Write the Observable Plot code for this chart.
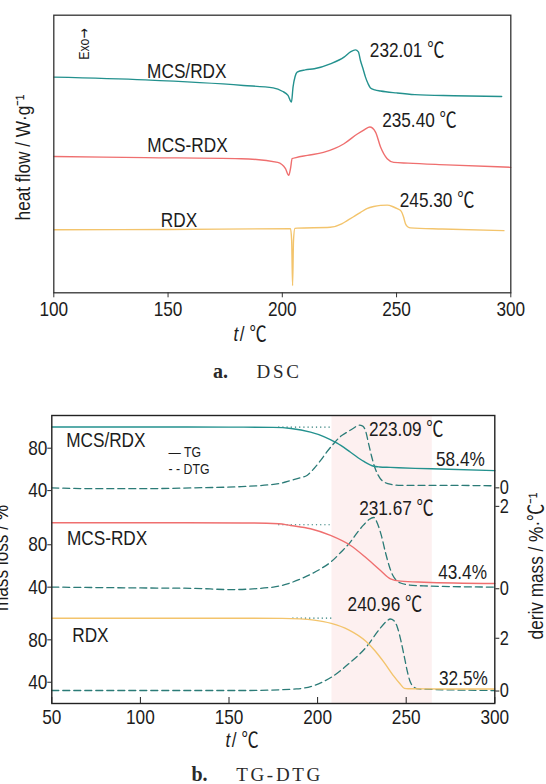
<!DOCTYPE html>
<html><head><meta charset="utf-8">
<script src="https://cdn.jsdelivr.net/npm/d3@7"></script>
<script src="https://cdn.jsdelivr.net/npm/@observablehq/plot@0.6"></script>
<style>
body{margin:0;background:#fff;}
#wrap{position:relative;width:546px;height:784px;overflow:hidden;background:#fff;}
#wrap svg{position:absolute;left:0;}
.cap{position:absolute;font-family:"Liberation Serif","DejaVu Serif",serif;font-size:19px;line-height:19px;color:#2a2a2a;white-space:pre;}
.cap b{font-weight:bold;font-size:20px;}
.cap span{letter-spacing:2.7px;}
</style></head><body><div id="wrap"></div>
<script>
// ================= Panel a: DSC (heat flow, arbitrary stacked units) =================
const dscTempMcsSlash = [100,140,183,196,200,202.5,204,204.7,205.6,206.5,210,214,221,227,230,232,233.3,234.2,235.3,236.4,237.5,238.6,240.5,243,250,258,275,296];
const dscHeatMcsSlash = [77.7,76.7,74.7,73.8,72.6,71.1,68.7,74.1,77.9,79.5,80.3,80.7,82.5,84.9,86.9,87.5,86.8,83.7,80.8,77.7,75.4,73.8,73.1,72.7,72.0,71.4,71.0,70.7];
const dscTempMcsDash = [100,140,182,198,201.4,202.8,203.6,204.3,206,211,218,223,227,233,236,238.3,240.8,243,245.9,248.8,255,272,300];
const dscHeatMcsDash = [49.1,48.7,48.3,47.0,44.7,42.3,44.8,48.3,48.7,49.5,50.6,52.0,53.7,57.3,58.8,59.7,57.9,52.5,48.3,47.0,46.7,46.1,45.2];
const dscTempRdx = [100,150,203.6,204.1,204.5,204.9,205.5,206.5,221,226,228.4,231,234.3,237,240,243,245.9,248.5,250.3,252,253,253.9,255,256.1,270,297];
const dscHeatRdx = [22.7,22.8,23.1,18.8,2.6,18.8,23.2,23.3,23.6,24.8,26.0,27.3,29.0,30.3,31.1,31.5,31.6,31.0,30.3,29.4,27.5,24.9,23.7,23.4,23.0,22.4];
const dscXTicks = [100,150,200,250,300];
const dscNames = ["MCS/RDX","MCS-RDX","RDX"];
const dscNameT = [158.2,158.5,154.8];
const dscNameV = [79.8,53.1,26.3];
const dscPeakLabels = ["232.01 ℃","235.40 ℃","245.30 ℃"];
const dscPeakT = [238.3,243.7,251.4];
const dscPeakV = [87.3,62.1,33.2];

// ================= Panel b: TG-DTG =================
const tgTempMcsSlash = [50,100,150,175,185,196,203.5,211,218.6,226.1,231.7,235,241,255,269,300];
const tgMassMcsSlash = [100,100,99.9,99.6,98.6,95.1,91.0,84.7,76.2,67.5,63.0,62.3,61.9,61.0,60.4,58.8];
const tgTempMcsDash = [50,100,158,178,184.7,196,207.3,218.6,228,235.5,241.1,246.8,260,300];
const tgMassMcsDash = [100.8,100.8,100.6,99.8,98.2,95.1,88.8,79.3,66.8,55.8,47.9,45.7,44.7,43.5];
const tgTempRdx = [50,100,150,180,190,198,207.7,217.5,227.4,232,237.2,243.1,246.5,249,251,270,300];
const tgMassRdx = [100.4,100.4,100.4,100.3,99.8,98.6,95.5,89.5,78.5,70.5,59.5,45.5,38.5,34.2,33.8,33.7,33.6];

const dtgTempMcsSlash = [50,75,100,130,157,179,185,190,194,198,201.6,205,209,213,216.6,220,223.5,225.5,227,229,230.5,232.5,235,237.5,242,247,270,300];
const dtgRateMcsSlash = [0,-0.02,-0.02,0,0.03,0.11,0.18,0.24,0.30,0.47,0.66,0.86,1.07,1.25,1.35,1.44,1.52,1.50,1.39,1.03,0.76,0.47,0.25,0.14,0.08,0.06,0.06,0.05];
const dtgTempMcsDash = [50,100,130,151,175,183,190,196,202,207.5,213,218.6,222.5,226,229,231.7,234,236,238.3,240.5,242.5,246.8,252,260,300];
const dtgRateMcsDash = [0.04,0.02,0.01,-0.02,0.04,0.12,0.23,0.35,0.49,0.65,0.88,1.14,1.37,1.55,1.68,1.73,1.56,1.29,0.88,0.54,0.32,0.14,0.09,0.07,0.04];
const dtgTempRdx = [50,100,158,188,198,207.7,217.5,227.4,235.1,239,241,243,245,247,249,250.5,252,254,257,300];
const dtgRateRdx = [0.02,0.02,0.02,0.08,0.21,0.52,1.03,1.66,2.36,2.65,2.73,2.67,2.42,1.91,1.28,0.78,0.40,0.17,0.08,0.02];

const tgXTicks = [50,100,150,200,250,300];
const tgLeftTicks = [80,40];
const dtgRightTicks = [[0],[0,2],[0,2]];
const baselineLevel = [99.8,98.9,100.4];
const baselineT1 = [178,178,186];
const baselineT2 = [208.8,207.5,208.8];
const shadeT1 = 208.1, shadeT2 = 264.7;
const tgNameT = [80.5,81.2,71.8];
const tgNameV = [87.3,85.7,84.1];
const tgPeakLabels = ["223.09 ℃","231.67 ℃","240.96 ℃"];
const tgPeakT = [250,244.5,238];
const tgPeakV = [98.3,114,114];
const tgResidueLabels = ["58.4%","43.4%","32.5%"];
const tgResidueT = [280.6,281.8,282.3];
const tgResidueV = [69.1,53.6,44.2];
const legendLabels = ["— TG","- - DTG"];
const legendT = [115.9,115.9];
const legendV = [76.2,60.6];

// stacking of the three TG-DTG sub-panels (shift in % units) and DTG axis mapping
const panelShift = [0,-91.1,-180.8];
const dtgZero = [42.6,38.5,31.7];
const dtgUnit = [38.87,38.87,24.9];
const panelBDomain = [-160.85,110.85];

const FONT = "'Liberation Sans',Arial,'Noto Sans CJK SC',sans-serif";
const NARROW = 0.82;
const C_TEAL = "#23918e", C_RED = "#ef6f6f", C_YEL = "#f3c46c", C_DTG = "#2b7b77", C_TXT = "#1c1c1c";
const seriesColors = [C_TEAL, C_RED, C_YEL];

const zip = (ts, vs, f = v => v) => ts.map((t, i) => ({t, v: f(vs[i])}));

// ---------- Plot a ----------
const dscData = [
  zip(dscTempMcsSlash, dscHeatMcsSlash),
  zip(dscTempMcsDash, dscHeatMcsDash),
  zip(dscTempRdx, dscHeatRdx)
];
const plotA = Plot.plot({
  width: 546, height: 360,
  marginLeft: 53.3, marginRight: 35.7, marginTop: 14.7, marginBottom: 67.7,
  x: {domain: [100, 300]},
  y: {domain: [0, 100], axis: null},
  style: {fontFamily: FONT, fontSize: "21px", color: C_TXT, background: "transparent", overflow: "visible"},
  marks: [
    ...dscData.map((d, k) => Plot.line(d, {x: "t", y: "v", stroke: seriesColors[k], strokeWidth: 1.4, curve: "monotone-x"})),
    Plot.frame({stroke: "#333", strokeWidth: 1.3}),
    Plot.axisX({ticks: dscXTicks, tickSize: 5, tickPadding: 3, label: null, fontSize: 21, stroke: "#333"}),
    Plot.text(dscNames.map((n, i) => ({n, t: dscNameT[i], v: dscNameV[i]})), {x: "t", y: "v", text: "n", fontSize: 21, fill: C_TXT}),
    Plot.text(dscPeakLabels.map((n, i) => ({n, t: dscPeakT[i], v: dscPeakV[i]})), {x: "t", y: "v", text: "n", textAnchor: "start", fontSize: 21, fill: C_TXT})
  ]
});
plotA.style.top = "0px";

// ---------- Plot b ----------
const tgData = [
  zip(tgTempMcsSlash, tgMassMcsSlash, v => v + panelShift[0]),
  zip(tgTempMcsDash, tgMassMcsDash, v => v + panelShift[1]),
  zip(tgTempRdx, tgMassRdx, v => v + panelShift[2])
];
const dtgMap = k => d => panelShift[k] + dtgZero[k] + d * dtgUnit[k];
const dtgData = [
  zip(dtgTempMcsSlash, dtgRateMcsSlash, dtgMap(0)),
  zip(dtgTempMcsDash, dtgRateMcsDash, dtgMap(1)),
  zip(dtgTempRdx, dtgRateRdx, dtgMap(2))
];
const leftTickMap = new Map();
panelShift.forEach(s => tgLeftTicks.forEach(v => leftTickMap.set(v + s, String(v))));
const rightTickMap = new Map();
dtgRightTicks.forEach((arr, k) => arr.forEach(v => rightTickMap.set(dtgMap(k)(v), String(v))));
const baselines = panelShift.map((s, k) => ({y: baselineLevel[k] + s, t1: baselineT1[k], t2: baselineT2[k]}));

const plotB = Plot.plot({
  width: 546, height: 370,
  marginLeft: 51.3, marginRight: 51.7, marginTop: 25, marginBottom: 57,
  x: {domain: [50, 300]},
  y: {domain: panelBDomain, axis: null},
  style: {fontFamily: FONT, fontSize: "21px", color: C_TXT, background: "transparent", overflow: "visible"},
  marks: [
    Plot.rect([{x1: shadeT1, x2: shadeT2, y1: panelBDomain[0], y2: panelBDomain[1]}], {x1: "x1", x2: "x2", y1: "y1", y2: "y2", fill: "#fdf0f0"}),
    Plot.ruleY(baselines, {y: "y", x1: "t1", x2: "t2", stroke: C_DTG, strokeWidth: 1.2, strokeDasharray: "1.2,3"}),
    ...dtgData.map(d => Plot.line(d, {x: "t", y: "v", stroke: C_DTG, strokeWidth: 1.3, strokeDasharray: "7,4", curve: "monotone-x"})),
    ...tgData.map((d, k) => Plot.line(d, {x: "t", y: "v", stroke: seriesColors[k], strokeWidth: 1.4, curve: "monotone-x"})),
    Plot.frame({stroke: "#222", strokeWidth: 1.4}),
    Plot.axisX({ticks: tgXTicks, tickSize: -6, tickPadding: 12, label: null, fontSize: 21, stroke: "#222"}),
    Plot.axisY({anchor: "left", ticks: [...leftTickMap.keys()], tickFormat: d => leftTickMap.get(d), tickSize: 4, tickPadding: 0.5, label: null, fontSize: 21, stroke: "#222"}),
    Plot.axisY({anchor: "right", ticks: [...rightTickMap.keys()], tickFormat: d => rightTickMap.get(d), tickSize: 4, tickPadding: 1, label: null, fontSize: 20, stroke: "#222"}),
    Plot.text(dscNames.map((n, k) => ({n, t: tgNameT[k], v: tgNameV[k] + panelShift[k]})), {x: "t", y: "v", text: "n", fontSize: 21, fill: C_TXT}),
    Plot.text(tgPeakLabels.map((n, k) => ({n, t: tgPeakT[k], v: tgPeakV[k] + panelShift[k]})), {x: "t", y: "v", text: "n", fontSize: 21, fill: C_TXT}),
    Plot.text(tgResidueLabels.map((n, k) => ({n, t: tgResidueT[k], v: tgResidueV[k] + panelShift[k]})), {x: "t", y: "v", text: "n", fontSize: 21, fill: C_TXT}),
    Plot.text(legendLabels.map((n, k) => ({n, t: legendT[k], v: legendV[k]})), {x: "t", y: "v", text: "n", textAnchor: "start", fontSize: 15, fill: C_TXT})
  ]
});
plotB.style.top = "390px";

const wrap = document.getElementById("wrap");
wrap.appendChild(plotA);
wrap.appendChild(plotB);

// axis titles (mixed styles) added as real text
function axisTitle(svg, x, y, size) {
  const t = d3.select(svg).append("text").attr("x", x).attr("y", y)
    .attr("font-size", size).attr("fill", C_TXT).attr("font-family", FONT);
  t.append("tspan").attr("font-style", "italic").text("t");
  t.append("tspan").attr("dx", 2).text("/ ℃");
}
function rotTitle(svg, x, y, size, text, arrow) {
  const t = d3.select(svg).append("text").attr("transform", `translate(${x},${y}) rotate(-90)`)
    .attr("text-anchor", "middle").attr("font-size", size).attr("fill", C_TXT)
    .attr("font-family", FONT).text(text);
  if (arrow) t.append("tspan").attr("font-family", "'DejaVu Sans',sans-serif").text(arrow);
}
axisTitle(plotA, 250, 341, 21);
rotTitle(plotA, 30, 157.5, 21, "heat flow / W·g⁻¹");
rotTitle(plotA, 89, 44, 15, "Exo", "→");
axisTitle(plotB, 242, 357.5, 21);
rotTitle(plotB, 8, 168, 21, "mass loss / %");
rotTitle(plotB, 542.5, 176, 21, "deriv mass / %·℃⁻¹");

// condensed lettering like the reference (horizontal squeeze around each text's anchor)
function narrow(svg, s) {
  svg.querySelectorAll("text").forEach(el => {
    const x = +el.getAttribute("x") || 0, y = +el.getAttribute("y") || 0;
    const tr = el.getAttribute("transform") || "";
    el.setAttribute("transform", `${tr} translate(${x},${y}) scale(${s},1) translate(${-x},${-y})`);
  });
}
narrow(plotA, NARROW);
narrow(plotB, NARROW);

// captions
const capA = document.createElement("div");
capA.className = "cap"; capA.style.left = "213px"; capA.style.top = "362px";
capA.innerHTML = "<b>a.</b>      <span>DSC</span>";
const capB = document.createElement("div");
capB.className = "cap"; capB.style.left = "191.5px"; capB.style.top = "765px";
capB.innerHTML = "<b>b.</b>      <span>TG-DTG</span>";
wrap.appendChild(capA);
wrap.appendChild(capB);
</script></body></html>
